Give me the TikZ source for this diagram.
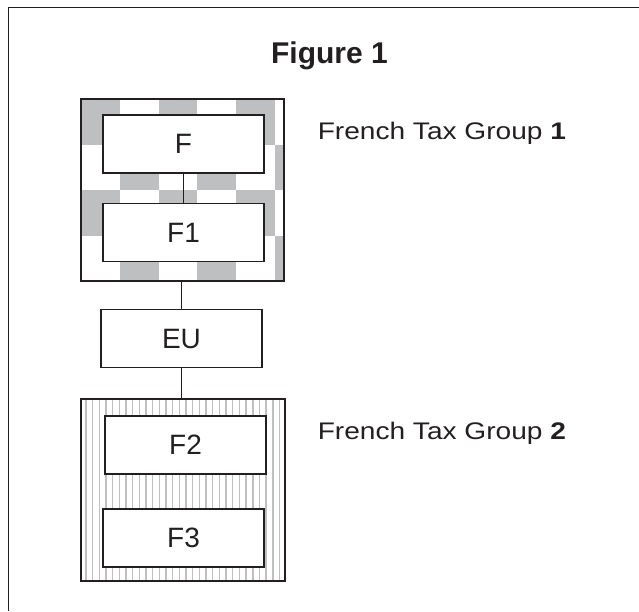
\documentclass[tikz,border=0pt]{standalone}
\usepackage{fontspec}
\setmainfont{Liberation Sans}
\usetikzlibrary{positioning}

\definecolor{inkdark}{RGB}{35,31,32}
\definecolor{checkgray}{RGB}{190,191,193}
\definecolor{stripegray}{RGB}{190,191,193}

\begin{document}
\begin{tikzpicture}[x=1pt, y=-1pt, line width=1.6pt, color=inkdark,
    entity/.style={draw, fill=white, minimum width=161pt, minimum height=58pt, inner sep=0pt, font=\fontsize{28}{32}\selectfont},
    taxgroup/.style={draw, minimum width=203pt, minimum height=182pt, inner sep=0pt},
    checkered/.style={path picture={
        \foreach \c/\r in {0/0,2/0,4/0,1/1,3/1,5/1,0/2,2/2,4/2,1/3,3/3,5/3}
          \fill[checkgray] ([shift={(\c*38.8pt,-\r*45.5pt)}]path picture bounding box.north west) rectangle +(38.8,45.5);
      }},
    striped/.style={path picture={
        \foreach \k in {0,...,30}
          \draw[stripegray, line width=1.5pt]
            ([xshift=\k*6.67pt+5pt]path picture bounding box.north west) --
            ([xshift=\k*6.67pt+5pt]path picture bounding box.south west);
      }},
    grouplabel/.style={anchor=base west, inner sep=0pt, font=\fontsize{24}{28}\selectfont}]
  \useasboundingbox (0,0) rectangle (639,611);

  % frame
  \draw[line width=1pt] (639,7) -- (8,7) -- (8,611);
  \node[anchor=base, inner sep=0pt, font=\bfseries\fontsize{30}{34}\selectfont] (title) at (329.5,63) {Figure 1};

  % tax groups
  \node[taxgroup, checkered] (grp1) at (182.5,190) {};
  \node[taxgroup, striped, minimum width=204pt] (grp2) at (183,490) {};

  \node[entity] (f) at (183.5,144) {F};
  \node[entity] (f1) at (183.5,232.5) {F1};
  \node[entity] (eu) at (181.5,338.5) {EU};
  \node[entity] (f2) at (185.5,445) {F2};
  \node[entity] (f3) at (183.5,538) {F3};

  \draw (f) -- (f1);
  \draw (eu.north) -- (eu.north |- grp1.south);
  \draw (eu.south) -- (eu.south |- grp2.north);

  \node[grouplabel] (lbl1) at (317,139) {\scalebox{1.17}[1]{French Tax Group \textbf{1}}};
  \node[grouplabel] (lbl2) at (317,439) {\scalebox{1.17}[1]{French Tax Group \textbf{2}}};
\end{tikzpicture}
\end{document}
